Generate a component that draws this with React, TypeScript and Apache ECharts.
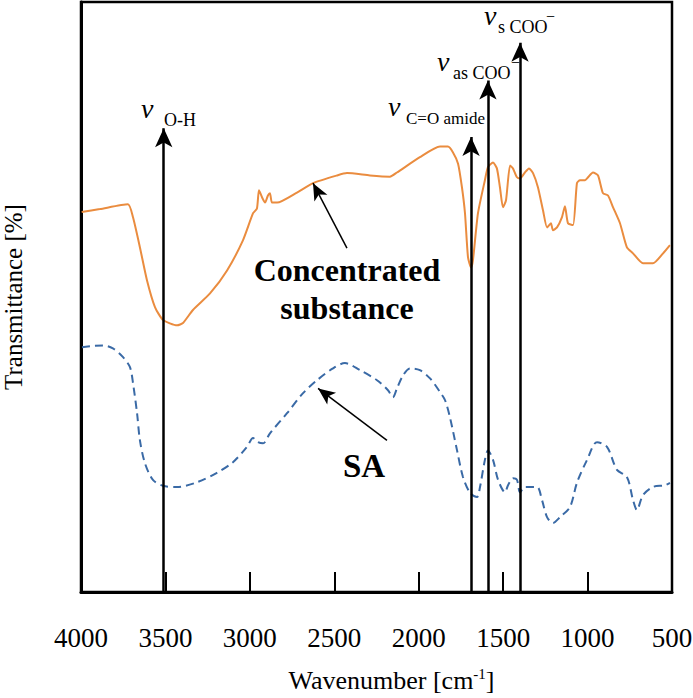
import React, { useEffect, useRef } from "react";
import * as echarts from "echarts";

// Concentrated substance (orange) spectrum: wavenumber [cm-1] and transmittance (arbitrary %)
const concWn = [3996, 3888, 3722, 3692, 3651, 3609, 3562, 3514, 3431, 3396, 3337, 3236, 3135, 3041, 2981, 2958, 2946, 2928, 2910, 2893, 2881, 2869, 2839, 2721, 2626, 2484, 2425, 2289, 2170, 2129, 1993, 1874, 1827, 1797, 1767, 1744, 1726, 1708, 1690, 1679, 1649, 1608, 1590, 1560, 1537, 1519, 1501, 1483, 1459, 1442, 1418, 1400, 1371, 1347, 1323, 1294, 1264, 1240, 1217, 1205, 1181, 1152, 1134, 1116, 1086, 1063, 1045, 1015, 997, 968, 938, 909, 879, 849, 808, 767, 731, 672, 613, 553, 512];
const concT = [64.4, 64.9, 65.7, 63.5, 58.4, 52.8, 48.3, 46.1, 45.2, 45.6, 47.8, 50.6, 54.5, 59.6, 64.2, 65.0, 68.1, 66.9, 66.0, 67.2, 67.6, 66.0, 66.0, 67.7, 69.3, 70.6, 71.0, 70.6, 70.4, 71.1, 73.7, 75.5, 75.5, 74.5, 72.6, 68.6, 64.2, 56.7, 55.0, 56.2, 64.2, 69.8, 72.0, 72.8, 71.8, 68.6, 65.2, 66.4, 72.3, 71.8, 70.3, 70.1, 71.1, 71.8, 71.0, 68.6, 64.7, 61.8, 62.5, 61.3, 61.8, 63.5, 65.4, 62.5, 62.2, 69.3, 69.8, 69.8, 70.3, 71.1, 70.6, 67.6, 67.2, 65.2, 62.5, 58.4, 57.4, 55.7, 55.7, 57.4, 58.8];

// SA (blue dashed) spectrum
const saWn = [3994, 3870, 3811, 3751, 3710, 3692, 3668, 3651, 3621, 3574, 3514, 3431, 3313, 3195, 3100, 3017, 2981, 2952, 2922, 2881, 2780, 2685, 2602, 2508, 2437, 2348, 2247, 2182, 2153, 2129, 2093, 2052, 1993, 1933, 1874, 1844, 1815, 1773, 1738, 1696, 1655, 1637, 1608, 1590, 1560, 1530, 1489, 1471, 1442, 1418, 1400, 1371, 1300, 1270, 1240, 1205, 1163, 1104, 1063, 1003, 944, 885, 826, 767, 731, 708, 672, 613, 542, 512];
const saT = [41.5, 41.8, 41.3, 39.8, 38.1, 35.4, 30.3, 25.7, 21.8, 19.0, 18.0, 17.8, 18.6, 20.2, 22.0, 24.6, 26.1, 25.4, 25.2, 26.9, 30.3, 33.7, 35.9, 37.9, 38.8, 37.6, 35.9, 34.2, 33.0, 34.5, 36.7, 37.9, 37.6, 36.2, 33.9, 32.5, 29.6, 24.0, 19.5, 16.8, 16.1, 17.8, 22.4, 24.0, 22.4, 19.0, 16.9, 18.1, 19.3, 19.0, 16.9, 17.8, 17.8, 15.6, 12.7, 11.7, 12.7, 14.4, 18.5, 22.4, 25.4, 24.6, 20.7, 19.5, 15.6, 13.9, 16.4, 17.8, 18.1, 18.5];

// Assignment arrows: wavenumber and arrow-tip height
const bandWn = [3510, 1690, 1590, 1400];
const bandTip = [78.6, 77.1, 86.7, 93.1];

// Tick labels
const xTicks = [4000, 3500, 3000, 2500, 2000, 1500, 1000, 500];

// Pointer arrows (from text to curve): [tailWn, tailT, headWn, headT]
const concPointer = [2425, 58.3, 2626, 69.3];
const saPointer = [2188, 25.7, 2596, 34.5];

const SERIF = "Times New Roman, Liberation Serif, DejaVu Serif, serif";

export default function App() {
  const ref = useRef<HTMLDivElement>(null);
  useEffect(() => {
    if (!ref.current) return;
    const chart = echarts.init(ref.current, undefined, { renderer: "svg" });
    const arrowLines = bandWn.map((w, i) => [
      { coord: [w, 0], symbol: "none" },
      { coord: [w, bandTip[i]], symbol: "arrow", symbolSize: [13, 19] },
    ]);
    const pointerLines = [concPointer, saPointer].map((p) => [
      { coord: [p[0], p[1]], symbol: "none", lineStyle: { width: 1.5 } },
      { coord: [p[2], p[3]], symbol: "arrow", symbolSize: [11, 17] },
    ]);
    const txt = (text: string, x: number, y: number, size: number, extra: any = {}) => ({
      type: "text",
      x,
      y,
      style: {
        text,
        fontFamily: SERIF,
        fontSize: size,
        fill: "#000",
        textVerticalAlign: "bottom",
        ...extra,
      },
    });
    const vTxt = (x: number, y: number) => txt("v", x, y, 28, { fontStyle: "italic" });
    chart.setOption({
      animation: false,
      backgroundColor: "#fff",
      textStyle: { fontFamily: SERIF },
      grid: {
        left: 81,
        right: 21,
        top: 2,
        bottom: 106,
        show: true,
        borderColor: "#000",
        borderWidth: 2.5,
        containLabel: false,
        outerBoundsMode: "none",
      },
      xAxis: {
        type: "value",
        inverse: true,
        min: 500,
        max: 4000,
        interval: 500,
        name: "Wavenumber [cm{sup|-1}]",
        nameLocation: "middle",
        nameGap: 74,
        nameTextStyle: {
          fontFamily: SERIF,
          fontSize: 26,
          color: "#000",
          padding: [0, 0, 0, 30],
          rich: { sup: { fontFamily: SERIF, fontSize: 15, color: "#000", padding: [0, 0, 14, 0] } },
        },
        axisLine: { show: true, onZero: false, lineStyle: { color: "#000", width: 3 } },
        axisTick: { show: true, inside: true, length: 20, lineStyle: { color: "#000", width: 2 } },
        axisLabel: {
          margin: 32,
          fontFamily: SERIF,
          fontSize: 27,
          color: "#000",
          formatter: (v: number) => (xTicks.includes(v) ? String(v) : ""),
        },
        splitLine: { show: false },
      },
      yAxis: {
        type: "value",
        min: 0,
        max: 100,
        name: "Transmittance [%]",
        nameLocation: "middle",
        nameGap: 55,
        nameTextStyle: { fontFamily: SERIF, fontSize: 25, color: "#000" },
        axisLine: { show: true, lineStyle: { color: "#000", width: 3 } },
        axisTick: { show: false },
        axisLabel: { show: false },
        splitLine: { show: false },
      },
      series: [
        {
          name: "Concentrated substance",
          type: "line",
          data: concWn.map((w, i) => [w, concT[i]]),
          showSymbol: false,
          smooth: 0.2,
          lineStyle: { color: "#EA8C3F", width: 2 },
          markLine: {
            silent: true,
            animation: false,
            label: { show: false },
            lineStyle: { color: "#000", width: 2.5, type: "solid" },
            data: [...arrowLines, ...pointerLines],
          },
        },
        {
          name: "SA",
          type: "line",
          data: saWn.map((w, i) => [w, saT[i]]),
          showSymbol: false,
          smooth: 0.3,
          lineStyle: { color: "#3A6AA6", width: 2, type: [8, 5] },
        },
      ],
      graphic: [
        txt("Concentrated\nsubstance", 347, 251, 32, {
          fontWeight: "bold",
          lineHeight: 38,
          textAlign: "center",
          textVerticalAlign: "top",
        }),
        txt("SA", 364, 466, 33, { fontWeight: "bold", textAlign: "center", textVerticalAlign: "middle" }),
        vTxt(141, 122),
        txt("O-H", 164, 129, 18),
        vTxt(388, 120),
        txt("C=O amide", 406, 127, 17),
        vTxt(437, 75),
        txt("as COO", 453, 82, 18),
        txt("\u2212", 511, 70, 16),
        vTxt(484, 29),
        txt("s COO", 498, 36, 18),
        txt("\u2212", 546, 24, 16),
      ],
    });
    return () => chart.dispose();
  }, []);
  return <div ref={ref} style={{ position: "fixed", left: 0, top: 0, width: 693, height: 698 }} />;
}
